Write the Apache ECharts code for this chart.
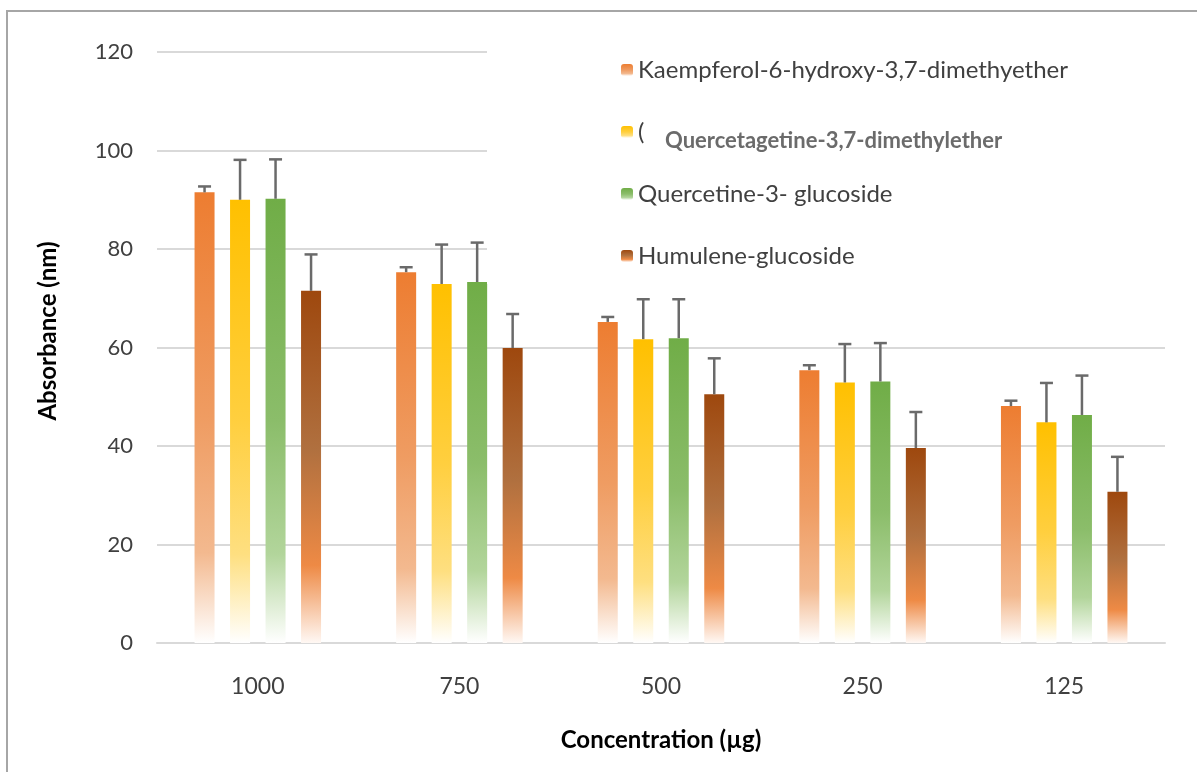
<!DOCTYPE html>
<html>
<head>
<meta charset="utf-8">
<script src="https://cdn.jsdelivr.net/npm/echarts@6/dist/echarts.min.js"></script>
<style>
html,body{margin:0;padding:0;background:#fff;}
#chart{width:1197px;height:772px;}
</style>
</head>
<body>
<div id="chart"></div>
<script>
const categories = ['1000', '750', '500', '250', '125'];
const seriesNames = ['Kaempferol-6-hydroxy-3,7-dimethyether', 'Quercetagetine-3,7-dimethylether', 'Quercetine-3- glucoside', 'Humulene-glucoside'];
const kaempferol = [91.5, 75.3, 65.2, 55.4, 48.1];
const kaempferolErr = [1.2, 1.0, 1.0, 1.0, 1.1];
const quercetagetine = [90.0, 72.9, 61.7, 52.9, 44.8];
const quercetagetineErr = [8.1, 8.0, 8.1, 7.8, 8.0];
const quercetine = [90.2, 73.3, 61.9, 53.1, 46.3];
const quercetineErr = [8.0, 8.0, 7.9, 7.8, 8.0];
const humulene = [71.5, 59.9, 50.5, 39.6, 30.7];
const humuleneErr = [7.4, 6.9, 7.3, 7.3, 7.1];
const yTicks = [0, 20, 40, 60, 80, 100, 120];
const xTitle = 'Concentration (µg)';
const yTitle = 'Absorbance (nm)';

const values = [kaempferol, quercetagetine, quercetine, humulene];
const errors = [kaempferolErr, quercetagetineErr, quercetineErr, humuleneErr];

const grads = [
  [[0, '#ED7D31'], [0.5, '#EF9C62'], [0.8, '#F3B98F'], [1, '#FFFFFF']],
  [[0, '#FFC000'], [0.5, '#FFCF3F'], [0.8, '#FEDF80'], [1, '#FFFFFF']],
  [[0, '#70AD47'], [0.5, '#8BBD6A'], [0.8, '#B2D59B'], [1, '#FFFFFF']],
  [[0, '#9E480E'], [0.45, '#B0703F'], [0.78, '#EE8A45'], [1, '#FFF8F4']]
];
function mkGrad(stops) {
  return new echarts.graphic.LinearGradient(0, 0, 0, 1, stops.map(s => ({offset: s[0], color: s[1]})));
}

const BAR_W = 20, BAR_GAP = 0.775;
const PITCH = BAR_W * (1 + BAR_GAP);

const series = [];
values.forEach((vals, i) => {
  series.push({
    name: seriesNames[i],
    type: 'bar',
    data: vals,
    barWidth: BAR_W,
    barGap: (BAR_GAP * 100) + '%',
    itemStyle: {color: mkGrad(grads[i])},
    z: 2
  });
});
errors.forEach((errs, i) => {
  series.push({
    name: 'err' + i,
    type: 'custom',
    z: 5,
    data: values[i].map((v, k) => [k, v, errs[k]]),
    renderItem: function (params, api) {
      const base = api.coord([api.value(0), api.value(1)]);
      const top = api.coord([api.value(0), api.value(1) + api.value(2)]);
      const x = base[0] + (i - 1.5) * PITCH;
      const style = {stroke: '#6a6a6a', lineWidth: 2.5};
      return {
        type: 'group',
        children: [
          {type: 'line', shape: {x1: x, y1: base[1], x2: x, y2: top[1]}, style: style},
          {type: 'line', shape: {x1: x - 6.5, y1: top[1], x2: x + 6.5, y2: top[1]}, style: style}
        ]
      };
    }
  });
});

const chart = echarts.init(document.getElementById('chart'), null, {renderer: 'canvas'});
chart.setOption({
  animation: false,
  backgroundColor: '#ffffff',
  textStyle: {fontFamily: 'Lato'},
  grid: {left: 157, right: 32, top: 52, bottom: 129},
  legend: {
    data: seriesNames,
    orient: 'vertical',
    left: 487,
    top: 30,
    padding: [26, 200, 14, 134],
    backgroundColor: '#ffffff',
    itemWidth: 12,
    itemHeight: 12,
    itemGap: 34,
    itemTextGap: 10,
    itemStyle: {borderWidth: 0},
    textStyle: {fontFamily: 'Lato', fontSize: 24, color: '#404040', lineHeight: 28},
    formatter: function (name) {
      return name === seriesNames[1] ? '(' : name;
    },
    selectedMode: false
  },
  xAxis: {
    type: 'category',
    data: categories,
    axisTick: {show: false},
    axisLine: {lineStyle: {color: '#d9d9d9', width: 2}},
    axisLabel: {fontFamily: 'Lato', fontSize: 23, color: '#404040', margin: 32},
    name: xTitle,
    nameLocation: 'middle',
    nameGap: 85,
    nameTextStyle: {fontFamily: 'Lato', fontSize: 24, fontWeight: 'bold', color: '#000000'}
  },
  yAxis: {
    type: 'value',
    min: yTicks[0],
    max: yTicks[yTicks.length - 1],
    interval: yTicks[1] - yTicks[0],
    axisLine: {show: false},
    axisTick: {show: false},
    splitLine: {lineStyle: {color: '#d9d9d9', width: 2}},
    axisLabel: {fontFamily: 'Lato', fontSize: 22, color: '#404040', margin: 24}
  },
  graphic: [
    {type: 'rect', z: -10, shape: {x: 7, y: 11, width: 1400, height: 1000}, style: {fill: 'none', stroke: '#a6a6a6', lineWidth: 2}},
    {type: 'text', x: 48, y: 331, rotation: Math.PI / 2, z: 10, style: {text: yTitle, fontFamily: 'Lato', fontSize: 24, fontWeight: 'bold', fill: '#000000', align: 'center', verticalAlign: 'middle'}},
    {type: 'text', left: 665, top: 130, z: 10, style: {text: seriesNames[1], fontFamily: 'Lato', fontSize: 22, fontWeight: 'bold', fill: '#6b6b6b'}}
  ],
  series: series
});
</script>
</body>
</html>
